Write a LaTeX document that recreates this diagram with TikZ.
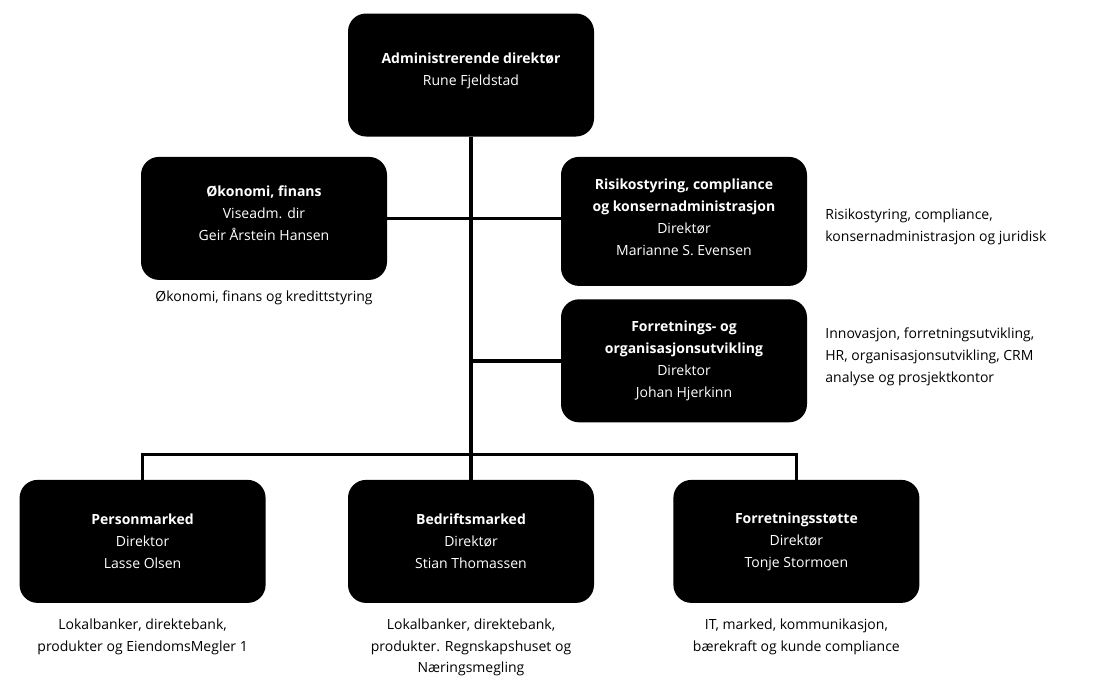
\documentclass[tikz,border=0pt]{standalone}
\usepackage{fontspec}
\setmainfont{Open Sans}
\usetikzlibrary{positioning, calc}

\begin{document}
\begin{tikzpicture}[
  x=1pt, y=-1pt,
  every node/.style={font=\fontsize{14}{22}\selectfont},
  unit/.style={rectangle, rounded corners=18pt, fill=black, text=white, minimum width=246pt, minimum height=123pt, align=center, inner sep=4pt},
  tall/.style={minimum height=129pt},
  note/.style={align=#1, inner sep=0pt, text=black},
  link/.style={line width=3.5pt, black},
]
\useasboundingbox (0,0) rectangle (1096,678);

\node[unit] (ceo) at (471,75) {\textbf{Administrerende direktør}\\Rune Fjeldstad\\[-10pt]};
\node[unit, below=20pt of ceo, xshift=-207pt] (okonomi) {\textbf{Økonomi, finans}\\Viseadm. dir\\Geir Årstein Hansen\\[-12pt]};
\node[unit, tall, below=20pt of ceo, xshift=213pt] (risiko) {\textbf{Risikostyring, compliance}\\\textbf{og konsernadministrasjon}\\Direktør\\Marianne S. Evensen\\[-14pt]};
\node[unit, below=13pt of risiko] (forret) {\textbf{Forretnings- og}\\\textbf{organisasjonsutvikling}\\Direktor\\Johan Hjerkinn};
\node[unit, below=343pt of ceo] (bedrift) {\textbf{Bedriftsmarked}\\Direktør\\Stian Thomassen};
\node[unit, left=82pt of bedrift] (person) {\textbf{Personmarked}\\Direktor\\Lasse Olsen};
\node[unit, right=79pt of bedrift] (stotte) {\textbf{Forretningsstøtte}\\Direktør\\Tonje Stormoen};

% descriptions
\node[note=center, below=10pt of okonomi] (okonomitxt) {Økonomi, finans og kredittstyring};
\node[note=left, right=18pt of risiko, yshift=-5pt] (risikotxt) {Risikostyring, compliance,\\konsernadministrasjon og juridisk};
\node[note=left, right=18pt of forret, yshift=4pt] (forrettxt) {Innovasjon, forretningsutvikling,\\HR, organisasjonsutvikling, CRM\\analyse og prosjektkontor};
\node[note=center, below=16pt of person] (persontxt) {Lokalbanker, direktebank,\\produkter og EiendomsMegler 1};
\node[note=center, below=16pt of bedrift, font=\fontsize{14}{21.5}\selectfont] (bedrifttxt) {Lokalbanker, direktebank,\\produkter. Regnskapshuset og\\Næringsmegling};
\node[note=center, below=16pt of stotte] (stottetxt) {IT, marked, kommunikasjon,\\bærekraft og kunde compliance};

% lines
\coordinate[below=318pt of ceo] (bar);
\draw[link] (ceo) -- (bedrift);
\draw[link] (okonomi) -- (okonomi -| risiko.west);
\draw[link] (forret.west) -- (forret.west -| ceo.south);
\draw[link] (person.north) |- (bar) -| (stotte.north);

\end{tikzpicture}
\end{document}
